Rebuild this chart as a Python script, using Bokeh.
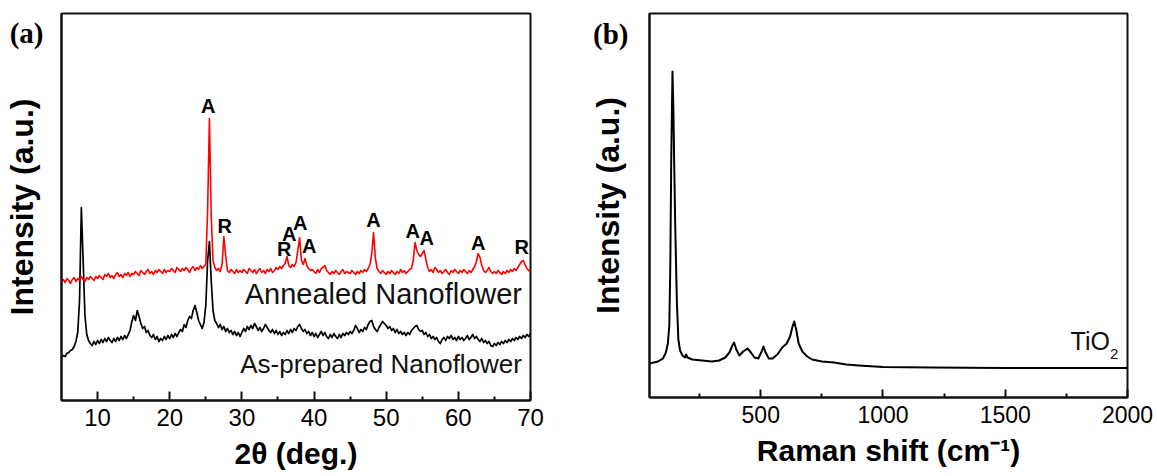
from bokeh.plotting import figure
from bokeh.layouts import row
from bokeh.models import Range1d, FixedTicker, Label, ColumnDataSource
from bokeh.core.properties import value
from bokeh.embed import file_html
from bokeh.resources import INLINE

# ---------------- data: panel (a) XRD ----------------
XRD_START = 5.0
XRD_STEP = 0.25

annealed = [
    119, 121, 118, 122, 120, 117, 121, 123, 119, 122, 120, 124, 121, 119, 123, 121, 124, 122, 120, 124,
    122, 125, 123, 121, 126, 124, 127, 123, 125, 122, 126, 128, 124, 126, 123, 127, 125, 128, 124, 127,
    126, 129, 127, 125, 130, 128, 126, 129, 131, 127, 129, 126, 130, 128, 131, 129, 127, 131, 128, 130,
    129, 132, 130, 128, 133, 131, 129, 132, 130, 133, 131, 128, 132, 134, 130, 133, 131, 135, 132, 134,
    136, 190, 282, 185, 140, 133, 130, 132, 129, 136, 164, 145, 130, 128, 131, 129, 127, 131, 128, 130,
    128, 131, 129, 127, 132, 130, 128, 131, 127, 130, 132, 128, 130, 127, 131, 129, 132, 128, 130, 133,
    131, 134, 132, 135, 137, 144, 135, 133, 136, 134, 138, 150, 163, 140, 136, 142, 135, 132, 130, 131,
    129, 127, 131, 128, 132, 133, 135, 130, 128, 126, 129, 127, 130, 128, 126, 129, 131, 127, 129, 128,
    127, 130, 128, 126, 129, 127, 130, 128, 131, 129, 132, 136, 147, 168, 142, 132, 129, 127, 130, 128,
    126, 129, 127, 130, 128, 126, 129, 127, 131, 128, 130, 127, 129, 131, 132, 140, 158, 150, 146, 144,
    147, 150, 141, 133, 129, 131, 128, 133, 131, 128, 130, 127, 129, 131, 128, 126, 130, 128, 131, 129,
    127, 130, 128, 131, 129, 127, 130, 128, 131, 134, 139, 147, 143, 135, 130, 128, 130, 133, 129, 127,
    129, 127, 130, 128, 126, 129, 127, 130, 128, 131, 129, 132, 130, 133, 136, 139, 140, 136, 132, 130,
    128,
]

as_prepared = [
    43, 45, 44, 47, 48, 50, 51, 54, 59, 68, 100, 193, 140, 85, 66, 60, 57, 55, 59, 56,
    60, 57, 61, 58, 62, 59, 63, 60, 58, 62, 59, 63, 60, 64, 61, 65, 62, 66, 70, 79,
    85, 80, 90, 84, 77, 72, 74, 68, 70, 65, 63, 66, 61, 64, 59, 62, 60, 64, 61, 65,
    62, 66, 63, 67, 64, 68, 71, 69, 76, 73, 80, 84, 82, 90, 95, 88, 80, 76, 72, 78,
    95, 140, 159, 120, 90, 80, 77, 73, 76, 71, 74, 69, 72, 68, 70, 66, 69, 65, 68, 64,
    68, 72, 69, 74, 71, 75, 72, 77, 74, 70, 73, 69, 72, 76, 73, 70, 68, 71, 67, 70,
    66, 69, 65, 68, 66, 70, 67, 71, 68, 72, 70, 74, 76, 72, 69, 71, 67, 69, 65, 68,
    64, 67, 63, 66, 69, 65, 68, 64, 62, 66, 63, 67, 64, 62, 66, 63, 67, 65, 68, 66,
    69, 67, 70, 75, 72, 68, 71, 69, 73, 71, 76, 79, 80, 74, 71, 69, 73, 76, 79, 77,
    75, 72, 74, 70, 72, 68, 71, 67, 69, 66, 68, 65, 68, 66, 70, 72, 74, 75, 71, 69,
    70, 66, 68, 64, 66, 62, 64, 61, 63, 59, 57, 61, 63, 60, 64, 62, 65, 61, 63, 60,
    64, 61, 63, 60, 62, 65, 61, 63, 66, 62, 64, 61, 59, 62, 58, 60, 57, 59, 55, 54,
    57, 55, 58, 56, 59, 57, 60, 58, 61, 59, 62, 60, 63, 61, 64, 62, 65, 63, 66, 64,
    67,
]

two_theta = [XRD_START + i * XRD_STEP for i in range(len(annealed))]

peak_labels = ["A", "R", "R", "A", "A", "A", "A", "A", "A", "A", "R"]
peak_label_x = [25.33, 27.62, 35.86, 36.55, 38.07, 39.32, 48.23, 53.69, 55.62, 62.77, 68.78]
peak_label_y = [295, 175, 152, 167, 178, 155, 181, 169.5, 163, 158, 154]

xrd_ticks = [10, 20, 30, 40, 50, 60, 70]
xrd_minor = [15, 25, 35, 45, 55, 65]

# ---------------- data: panel (b) Raman ----------------
raman_shift = [45, 80, 100, 112, 120, 126, 130, 134, 139, 143, 146, 150, 153, 157, 163,
               170, 180, 190, 195, 200, 220, 260, 300, 330, 355, 372, 384, 391, 400, 413,
               428, 446, 460, 474, 490, 502, 511, 520, 533, 548, 568, 588, 606, 620, 630,
               637, 645, 655, 670, 690, 710, 750, 800, 850, 900, 1000, 1200, 1500, 2000]
raman_int = [34, 36, 39, 45, 54, 72, 130, 240, 326, 285, 235, 175, 141, 95, 58,
             47, 42, 40, 43, 40, 38, 37, 36, 37, 40, 45, 52, 55, 48, 42,
             46, 49, 45, 40, 39, 45, 51, 45, 39, 39, 43, 50, 54, 61, 71,
             76, 68, 54, 46, 41, 38, 36, 35, 33, 32, 30.5, 30, 29.5, 29.5]

raman_ticks = [500, 1000, 1500, 2000]
raman_minor = [250, 750, 1250, 1750]

SANS = "Liberation Sans"
SERIF = "Liberation Serif"
FRAME = "#111111"


def style(p, ticks, minor, tick_px, tick_len, panel_tag, tag_y, tag_standoff, label_standoff):
    p.outline_line_color = FRAME
    p.outline_line_width = 2
    p.xgrid.visible = False
    p.ygrid.visible = False
    p.background_fill_color = "white"
    p.border_fill_color = "white"
    ax = p.xaxis[0]
    ax.ticker = FixedTicker(ticks=ticks, minor_ticks=minor)
    ax.axis_line_color = FRAME
    ax.axis_line_width = 2
    ax.major_tick_in = tick_len
    ax.major_tick_out = 0
    ax.minor_tick_in = 4
    ax.minor_tick_out = 0
    ax.major_tick_line_width = 2
    ax.minor_tick_line_width = 2
    ax.major_tick_line_color = FRAME
    ax.minor_tick_line_color = FRAME
    ax.major_label_text_font = SANS
    ax.major_label_text_font_size = tick_px
    ax.major_label_text_color = "black"
    ax.major_label_standoff = 8
    ax.axis_label_text_font = SANS
    ax.axis_label_text_font_style = "bold"
    ax.axis_label_text_font_size = "30px"
    ax.axis_label_text_color = "black"
    ax.axis_label_standoff = 8
    # left axis: no ticks; its single tick label carries the panel tag
    ay = p.yaxis[0]
    ay.ticker = FixedTicker(ticks=[tag_y])
    ay.major_label_overrides = {tag_y: panel_tag}
    ay.axis_line_color = FRAME
    ay.axis_line_width = 2
    ay.major_tick_in = 0
    ay.major_tick_out = 0
    ay.minor_tick_in = 0
    ay.minor_tick_out = 0
    ay.major_label_text_font = SERIF
    ay.major_label_text_font_style = "bold"
    ay.major_label_text_font_size = "29px"
    ay.major_label_text_color = "black"
    ay.major_label_standoff = tag_standoff
    ay.axis_label = "Intensity (a.u.)"
    ay.axis_label_text_font = SANS
    ay.axis_label_text_font_style = "bold"
    ay.axis_label_text_font_size = "32px"
    ay.axis_label_text_color = "black"
    ay.axis_label_standoff = label_standoff


# ---------------- panel (a) ----------------
pa = figure(frame_width=469, frame_height=387,
            x_range=Range1d(5, 70), y_range=Range1d(0, 387),
            min_border_left=61, min_border_right=56, min_border_top=13, min_border_bottom=76,
            output_backend="svg", toolbar_location=None, x_axis_label="2θ (deg.)")
style(pa, xrd_ticks, xrd_minor, "24px", 9, "(a)", 368, 18, -33)

src = ColumnDataSource(dict(x=two_theta, ann=annealed, asp=as_prepared))
pa.line("x", "asp", source=src, line_color="black", line_width=1.7, line_join="round")
pa.line("x", "ann", source=src, line_color="#ff0000", line_width=1.6, line_join="round")

lab_src = ColumnDataSource(dict(x=peak_label_x, y=peak_label_y, t=peak_labels))
pa.text("x", "y", text="t", source=lab_src, text_font=value(SANS), text_font_style="bold",
        text_font_size=value("20px"), text_align="center", text_baseline="middle",
        text_color="black")

pa.add_layout(Label(x=68.82, y=107, text="Annealed Nanoflower", text_font=SANS,
                    text_font_size="29px", text_align="right", text_baseline="middle",
                    text_color="#111111"))
pa.add_layout(Label(x=68.82, y=37, text="As-prepared Nanoflower", text_font=SANS,
                    text_font_size="26px", text_align="right", text_baseline="middle",
                    text_color="#111111"))

# ---------------- panel (b) ----------------
pb = figure(frame_width=478, frame_height=384,
            x_range=Range1d(45, 2000), y_range=Range1d(0, 384),
            min_border_left=63, min_border_right=30, min_border_top=12, min_border_bottom=80,
            output_backend="svg", toolbar_location=None,
            x_axis_label="Raman shift (cm\u207b\u00b9)")
style(pb, raman_ticks, raman_minor, "23px", 8, "(b)", 364, 21, -36)

pb.line(raman_shift, raman_int, line_color="black", line_width=2, line_join="round")

pb.add_layout(Label(x=1928, y=57, text="TiO", text_font=SANS, text_font_size="25px",
                    text_align="right", text_baseline="middle", text_color="#111111"))
pb.add_layout(Label(x=1928, y=44, text="2", text_font=SANS, text_font_size="15px",
                    text_align="left", text_baseline="middle", text_color="#111111"))

layout = row(pa, pb)
open("out.html", "w").write(file_html(layout, INLINE))
